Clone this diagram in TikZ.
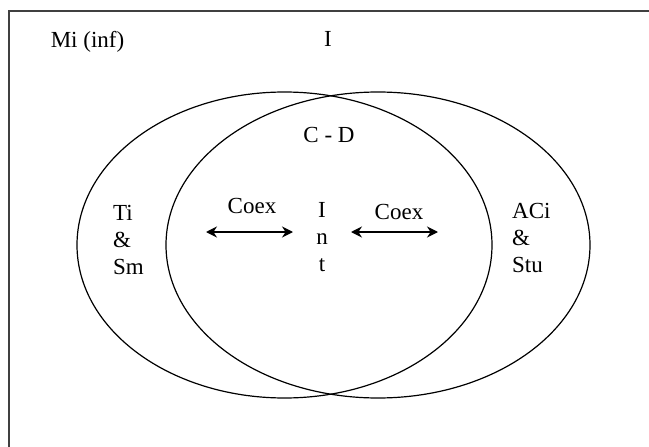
\documentclass[tikz,border=0pt]{standalone}
\usepackage{fontspec}
\setmainfont{Liberation Serif}
\usetikzlibrary{arrows.meta}
\tikzset{
  lbl/.style={inner sep=0pt, font=\fontsize{23}{27}\selectfont},
  frame/.style={line width=2pt, draw=black!75},
  setline/.style={line width=1.2pt, draw=black},
  coex/.style={line width=1.5pt, {Stealth[length=11pt,width=11pt]}-{Stealth[length=11pt,width=11pt]}}
}
\begin{document}
\begin{tikzpicture}[x=1pt,y=-1pt]
\useasboundingbox (0,0) rectangle (649,447);
\fill[white] (0,0) rectangle (649,447);
% frame (only left and top edges visible)
\draw[frame] (9,448) -- (9,11) -- (650,11);
% sets
\draw[setline] (284.5,245) ellipse [x radius=207.5, y radius=153];
\draw[setline] (378,245) ellipse [x radius=212, y radius=153];
% labels
\node[lbl, anchor=base] (mi) at (87.5,48) {Mi (inf)};
\node[lbl, anchor=base] (univ) at (328,46) {I};
\node[lbl, anchor=base] (cd) at (329,142) {C - D};
\node[lbl, anchor=base] (coexl) at (252,213) {Coex};
\node[lbl, anchor=base] (coexr) at (399,219) {Coex};
\node[lbl, anchor=north, align=center] (int) at (322,202) {I\\n\\t};
\node[lbl, anchor=north west, align=left] (tism) at (113,205) {Ti\\\&\\Sm};
\node[lbl, anchor=north west, align=left] (acistu) at (512,203) {ACi\\\&\\Stu};
% arrows
\coordinate (la) at (206,232);
\coordinate (lb) at (293,232);
\coordinate (ra) at (351,232);
\coordinate (rb) at (438,232);
\draw[coex] (la) -- (lb);
\draw[coex] (ra) -- (rb);
\end{tikzpicture}
\end{document}
